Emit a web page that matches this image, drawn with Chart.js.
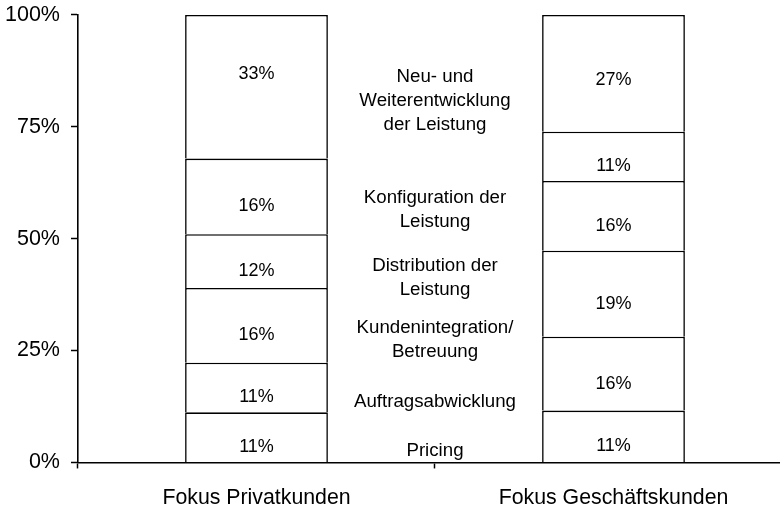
<!DOCTYPE html>
<html>
<head>
<meta charset="utf-8">
<script src="https://cdn.jsdelivr.net/npm/chart.js@4"></script>
<style>
  html, body { margin: 0; padding: 0; background: #fff; overflow: hidden; }
  #wrap { position: relative; top: -9px; width: 792px; height: 522px; }
</style>
</head>
<body>
<div id="wrap"><canvas id="myChart"></canvas></div>
<script>
// categories (bars)
const categories = ['Fokus Privatkunden', 'Fokus Geschäftskunden'];

// segments from bottom to top
const segments = [
  'Pricing',
  'Auftragsabwicklung',
  'Kundenintegration/\nBetreuung',
  'Distribution der\nLeistung',
  'Konfiguration der\nLeistung',
  'Neu- und\nWeiterentwicklung\nder Leistung'
];

// share of each segment
const privatValues = [11.2, 11.1, 16.7, 12.0, 16.9, 32.1];
const geschaeftValues = [11.6, 16.5, 19.2, 15.6, 11.0, 26.1];

// printed labels in the bars
const privatLabels = ['11%', '11%', '16%', '12%', '16%', '33%'];
const geschaeftLabels = ['11%', '16%', '19%', '16%', '11%', '27%'];

// y-axis ticks
const yTicks = [0, 25, 50, 75, 100];

// where the segment names sit (in % of the axis)
const segmentLabelY = [2.5, 13.6, 27.5, 41.3, 56.5, 80.8];

const FONT = 'Liberation Sans, Arial, sans-serif';

const datasets = segments.map(function (name, i) {
  return {
    label: name.replace(/\n/g, ' '),
    data: [privatValues[i], geschaeftValues[i]],
    texts: [privatLabels[i], geschaeftLabels[i]],
    labelShift: i === segments.length - 1 ? [-13, 7] : [10, 10],
    backgroundColor: '#ffffff',
    borderColor: '#000000',
    borderWidth: 1.6,
    borderSkipped: 'start',
    barPercentage: 0.4,
    categoryPercentage: 1.0
  };
});

const textPlugin = {
  id: 'textPlugin',
  afterDatasetsDraw(chart) {
    const ctx = chart.ctx;
    const y = chart.scales.y;
    const x = chart.scales.x;
    ctx.save();
    ctx.fillStyle = '#000';
    ctx.textAlign = 'center';
    ctx.textBaseline = 'middle';
    // values inside the bars
    ctx.font = '18px ' + FONT;
    chart.data.datasets.forEach(function (ds, di) {
      chart.getDatasetMeta(di).data.forEach(function (bar, bi) {
        const mid = (bar.y + bar.base) / 2;
        ctx.fillText(ds.texts[bi], bar.x, mid + ds.labelShift[bi]);
      });
    });
    // segment names between the bars
    ctx.font = '18.7px ' + FONT;
    const cx = (x.getPixelForValue(0) + x.getPixelForValue(1)) / 2;
    const lh = 24;
    segments.forEach(function (name, i) {
      const lines = name.split('\n');
      const cy = y.getPixelForValue(segmentLabelY[i]);
      const start = cy - (lines.length - 1) * lh / 2;
      lines.forEach(function (ln, k) {
        ctx.fillText(ln, cx, start + k * lh);
      });
    });
    ctx.restore();
  }
};

const ctx = document.getElementById('myChart').getContext('2d');
const myChart = new Chart(ctx, {
  type: 'bar',
  data: {
    labels: categories,
    datasets: datasets
  },
  options: {
    responsive: true,
    maintainAspectRatio: false,
    animation: false,
    layout: { padding: { top: 0, left: -6, right: 0, bottom: -15 } },
    plugins: {
      legend: { display: false },
      tooltip: { enabled: false }
    },
    scales: {
      x: {
        stacked: true,
        grid: {
          offset: true,
          drawOnChartArea: false,
          drawTicks: true,
          tickLength: 6,
          tickColor: '#000',
          tickWidth: 1.5
        },
        border: { display: true, color: '#000', width: 1.6 },
        ticks: {
          color: '#000',
          font: { family: FONT, size: 21.3 },
          padding: 17,
          maxRotation: 0
        }
      },
      y: {
        stacked: true,
        min: 0,
        max: 100,
        afterBuildTicks: function (axis) {
          axis.ticks = yTicks.map(function (v) { return { value: v }; });
        },
        grid: {
          drawOnChartArea: false,
          drawTicks: true,
          tickLength: 7,
          tickColor: '#000',
          tickWidth: 1.5
        },
        border: { display: true, color: '#000', width: 1.6 },
        ticks: {
          color: '#000',
          font: { family: FONT, size: 21.5 },
          padding: 11,
          callback: function (v) { return v + '%'; }
        }
      }
    }
  },
  plugins: [textPlugin]
});
</script>
</body>
</html>
